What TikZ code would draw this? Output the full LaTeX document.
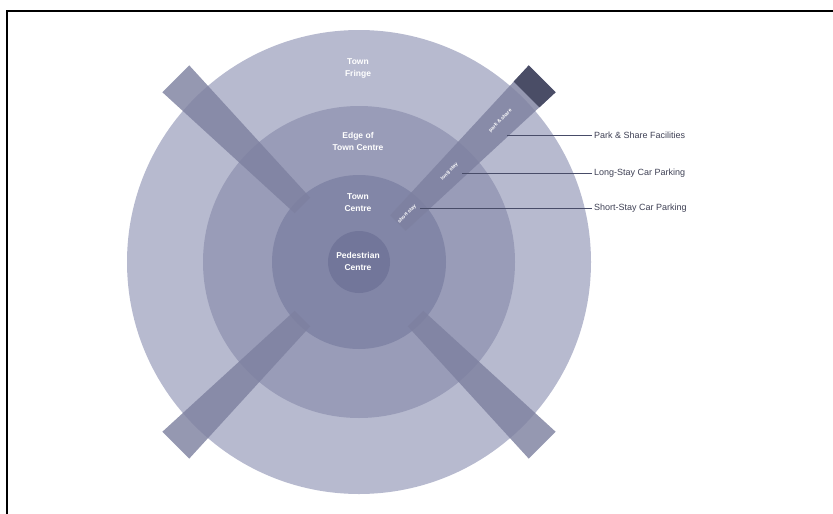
\documentclass[tikz,border=0pt]{standalone}
\usepackage{fontspec}
\setmainfont{Liberation Sans}
\usetikzlibrary{positioning,calc}
\definecolor{ringA}{RGB}{183,186,207}
\definecolor{ringB}{RGB}{153,156,184}
\definecolor{ringC}{RGB}{130,134,167}
\definecolor{ringD}{RGB}{114,118,154}
\definecolor{armcol}{RGB}{126,129,160}
\definecolor{armdark}{RGB}{74,77,102}
\definecolor{leadcol}{RGB}{72,76,104}
\definecolor{keytext}{RGB}{62,64,84}

\begin{document}
\begin{tikzpicture}[
  x=1pt, y=-1pt,
  arm/.style={fill=armcol, fill opacity=0.82},
  zonelabel/.style={text=white, font=\fontsize{8.5}{12}\selectfont\bfseries, align=center, inner sep=0pt},
  armtext/.style={text=white, font=\fontsize{5}{6}\selectfont\bfseries, inner sep=0pt},
  keylabel/.style={text=keytext, font=\fontsize{9}{10}\selectfont, anchor=west, inner sep=2pt},
  leader/.style={draw=leadcol, line width=0.9pt}
]
\useasboundingbox (0,0) rectangle (833,514);

% --- Frame ---
\draw[line width=2.3pt] (7,514) -- (7,11) -- (833,11);

% --- Concentric zones ---
\coordinate (c) at (359,262);
\fill[ringA] (c) circle (232pt);
\fill[ringB] (c) circle (156pt);
\fill[ringC] (c) circle (87pt);
\fill[ringD] (c) circle (31pt);

% --- Approach corridors (tapered) ---
\foreach \a/\rin in {45/80,135/80,225/80,315/55}
  \fill[arm] ($(c)+(\a:\rin)+(\a+90:11)$) -- ($(c)+(\a:259)+(\a+90:19)$)
          -- ($(c)+(\a:259)+(\a-90:19)$) -- ($(c)+(\a:\rin)+(\a-90:11)$) -- cycle;

% --- Dark end of the north-east corridor ---
\fill[armdark] ($(c)+(315:237)+(45:18.2)$) -- ($(c)+(315:259)+(45:19)$)
            -- ($(c)+(315:259)+(225:19)$) -- ($(c)+(315:237)+(225:18.2)$) -- cycle;

% --- Texts along the corridor ---
\node[armtext, rotate=45] (tPS) at ($(c)+(315:200)$) {park \& share};
\node[armtext, rotate=45] (tLS) at ($(c)+(315:128)$) {long stay};
\node[armtext, rotate=45] (tSS) at ($(c)+(315:68)$) {short stay};

% --- Zone names ---
\node[zonelabel] (fringe) at (358,68) {Town\\Fringe};
\node[zonelabel] (edge) at (358,141) {Edge of\\Town Centre};
\node[zonelabel] (town) at (358,203) {Town\\Centre};
\node[zonelabel] (ped) at (358,261) {Pedestrian\\Centre};

% --- Key with leader lines ---
\coordinate (pPS) at (507,135);
\coordinate (pLS) at (462,173);
\coordinate (pSS) at (420,208);
\node[keylabel] (kPS) at (592,135) {Park \& Share Facilities};
\node[keylabel] (kLS) at (592,173) {Long-Stay Car Parking};
\node[keylabel] (kSS) at (592,208) {Short-Stay Car Parking};
\draw[leader] (pPS) -- (kPS.west);
\draw[leader] (pLS) -- (kLS.west);
\draw[leader] (pSS) -- (kSS.west);

\end{tikzpicture}
\end{document}
